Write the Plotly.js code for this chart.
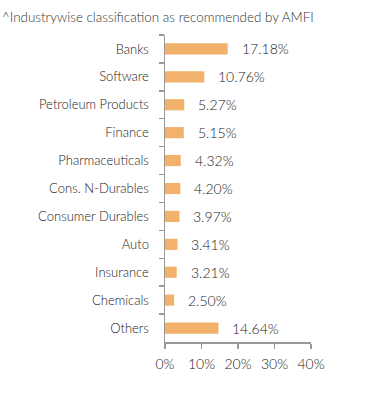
<!DOCTYPE html>
<html><head><meta charset="utf-8">
<script src="https://cdn.plot.ly/plotly-3.0.1.min.js"></script>
<style>html,body{margin:0;padding:0;background:#fff}#chart{width:391px;height:394px}</style>
</head><body><div id="chart"></div>
<script>
var categories = ["Banks","Software","Petroleum Products","Finance","Pharmaceuticals","Cons. N-Durables","Consumer Durables","Auto","Insurance","Chemicals","Others"];
var values = [17.18,10.76,5.27,5.15,4.32,4.20,3.97,3.41,3.21,2.50,14.64];
var xTicks = [0,10,20,30,40];
var xTickLabels = ["0%","10%","20%","30%","40%"];
var note = "^Industrywise classification as recommended by AMFI";

var fam = "Lato, 'Open Sans', sans-serif";
var font = {family:fam, size:13, color:"#222", weight:300};
var annotations = categories.map(function(c,i){
  return {x:values[i], y:c, xref:"x", yref:"y", text:values[i].toFixed(2)+"%", showarrow:false,
    xanchor:"left", xshift:12, font:{family:fam,size:14,color:"#222",weight:300}};
});
annotations.push({xref:"paper", yref:"paper", x:-165/146, y:1, yshift:18, xanchor:"left", yanchor:"middle",
  text:note, showarrow:false, font:{family:fam,size:13.4,color:"#333",weight:300}});

Plotly.newPlot("chart",[{
  type:"bar", orientation:"h", y:categories, x:values,
  marker:{color:"#F2B26B"}, width:0.4, hoverinfo:"none"
}],{
  width:391, height:394,
  margin:{l:165, r:80, t:35, b:52},
  paper_bgcolor:"#fff", plot_bgcolor:"#fff",
  showlegend:false,
  font:font,
  xaxis:{range:[0,40], tickvals:xTicks, ticktext:xTickLabels, showgrid:false, zeroline:false,
    showline:true, linecolor:"#999", linewidth:1.5, ticks:"outside", ticklen:5, tickcolor:"#999", tickwidth:1.5,
    ticklabelstandoff:4,
    tickfont:{family:fam,size:14,color:"#222",weight:300}, fixedrange:true},
  yaxis:{type:"category", autorange:"reversed", showgrid:false, zeroline:false, showline:true,
    linecolor:"#999", linewidth:1.5, ticks:"outside", ticklen:5, tickcolor:"#999", tickwidth:1.5,
    tickson:"boundaries", ticklabelstandoff:12,
    tickfont:{family:fam,size:13,color:"#222",weight:300}, fixedrange:true},
  annotations:annotations
},{displayModeBar:false, staticPlot:true});
</script></body></html>
